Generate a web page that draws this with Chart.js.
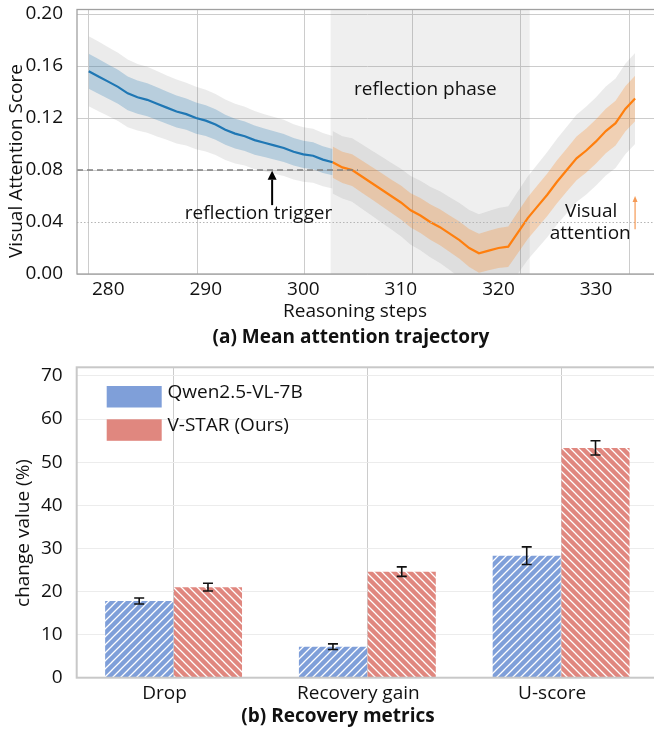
<!DOCTYPE html>
<html>
<head>
<meta charset="utf-8">
<script src="https://cdn.jsdelivr.net/npm/chart.js@4.4.1/dist/chart.umd.min.js"></script>
<style>
  html, body { margin: 0; padding: 0; background: #fff; overflow: hidden; width: 654px; height: 730px; }
  #chartA { position: absolute; left: 0; top: 0; }
  #chartB { position: absolute; left: 0; top: 350px; }
</style>
</head>
<body>
<canvas id="chartA" width="662" height="350"></canvas>
<canvas id="chartB" width="662" height="380"></canvas>
<script>
// ---- (a) mean attention trajectory ----
const stepsBlue = [278, 279, 280, 281, 282, 283, 284, 285, 286, 287, 288, 289, 290,
                   291, 292, 293, 294, 295, 296, 297, 298, 299, 300, 301, 302, 303];
const meanBlue = [0.156, 0.152, 0.148, 0.144, 0.139, 0.136, 0.134, 0.131, 0.128, 0.125, 0.123, 0.120, 0.118,
                  0.115, 0.111, 0.108, 0.106, 0.103, 0.101, 0.099, 0.097, 0.094, 0.092, 0.091, 0.088, 0.086];
const sdBlue = [0.0135, 0.0134, 0.0132, 0.0131, 0.0130, 0.0128, 0.0127, 0.0126, 0.0124, 0.0123, 0.0121, 0.0120, 0.0119,
                0.0117, 0.0116, 0.0115, 0.0113, 0.0112, 0.0110, 0.0109, 0.0108, 0.0106, 0.0105, 0.0104, 0.0102, 0.0101];

const stepsOrange = [303, 304, 305, 306, 307, 308, 309, 310, 311, 312, 313, 314, 315, 316, 317, 318,
                     319, 320, 321, 322, 323, 324, 325, 326, 327, 328, 329, 330, 331, 332, 333, 334];
const meanOrange = [0.086, 0.082, 0.080, 0.075, 0.070, 0.065, 0.060, 0.055, 0.049, 0.045, 0.040, 0.036, 0.031, 0.026, 0.020, 0.016,
                    0.018, 0.020, 0.021, 0.032, 0.043, 0.052, 0.061, 0.071, 0.080, 0.089, 0.095, 0.102, 0.110, 0.116, 0.127, 0.135];
const sdOrange = [0.0120, 0.0120, 0.0122, 0.0124, 0.0125, 0.0127, 0.0128, 0.0130, 0.0132, 0.0134, 0.0136, 0.0138, 0.0140, 0.0143, 0.0146, 0.0150,
                  0.0152, 0.0154, 0.0156, 0.0158, 0.0160, 0.0162, 0.0164, 0.0165, 0.0166, 0.0168, 0.0169, 0.0170, 0.0171, 0.0172, 0.0174, 0.0175];

const xTicksA = [280, 290, 300, 310, 320, 330];
const xGridA = [278, 289.1, 300.1, 311.2, 322.3, 333.4];
const yTicksA = [0, 0.04, 0.08, 0.12, 0.16, 0.20];
const reflectionPhase = [302.8, 323.2];
const triggerLevel = 0.08;
const triggerEnd = 305.6;

// ---- (b) recovery metrics ----
const categories = ['Drop', 'Recovery gain', 'U-score'];
const qwenValues = [17.8, 7.2, 28.3];
const qwenErrors = [0.7, 0.65, 2.05];
const vstarValues = [21.0, 24.6, 53.3];
const vstarErrors = [0.9, 1.1, 1.65];
const yTicksB = [0, 10, 20, 30, 40, 50, 60, 70];

const FONT = "'Open Sans', 'Noto Sans', sans-serif";
Chart.defaults.font.family = FONT;
Chart.defaults.font.size = 19;
Chart.defaults.color = '#111';

let band = (steps, mean, sd, k) => steps.map((s, i) => ({ x: s, y: mean[i] + k * sd[i] }));
let line = (steps, mean) => steps.map((s, i) => ({ x: s, y: mean[i] }));

let bandSet = (data, color, fill, order) => ({
    data: data, borderWidth: 0, pointRadius: 0, backgroundColor: color, fill: fill, order: order
});

// fixed axis sizes, no extra label padding
let fixWidth = w => s => { s.width = w; s.paddingTop = 0; s.paddingBottom = 0; };
let fixHeight = h => s => { s.height = h; s.paddingLeft = 0; s.paddingRight = 0; };

let arrow = (ctx, x, y0, y1, color, lw, head, hw) => {
    ctx.save();
    ctx.strokeStyle = color;
    ctx.fillStyle = color;
    ctx.lineWidth = lw;
    ctx.beginPath();
    ctx.moveTo(x, y0);
    ctx.lineTo(x, y1 + head);
    ctx.stroke();
    ctx.beginPath();
    ctx.moveTo(x, y1);
    ctx.lineTo(x - hw, y1 + head);
    ctx.lineTo(x + hw, y1 + head);
    ctx.closePath();
    ctx.fill();
    ctx.restore();
}

const panelA = {
    id: 'panelA',
    beforeDatasetsDraw(chart) {
        const { ctx, chartArea: a, scales: { x } } = chart;
        ctx.save();
        ctx.fillStyle = 'rgba(128,128,128,0.13)';
        const x0 = x.getPixelForValue(reflectionPhase[0]);
        const x1 = x.getPixelForValue(reflectionPhase[1]);
        ctx.fillRect(x0, a.top, x1 - x0, a.bottom - a.top);
        ctx.restore();
    },
    afterDatasetsDraw(chart) {
        const { ctx, chartArea: a, scales: { x, y } } = chart;
        ctx.save();
        // dotted line at 0.04
        ctx.strokeStyle = '#b5b5b5';
        ctx.lineWidth = 1;
        ctx.setLineDash([1.5, 2]);
        let yy = Math.round(y.getPixelForValue(0.04)) + 0.5;
        ctx.beginPath(); ctx.moveTo(a.left, yy); ctx.lineTo(a.right, yy); ctx.stroke();
        // reflection trigger dashed line
        ctx.strokeStyle = '#808080';
        ctx.lineWidth = 1.6;
        ctx.setLineDash([6, 4]);
        yy = y.getPixelForValue(triggerLevel);
        ctx.beginPath(); ctx.moveTo(a.left, yy); ctx.lineTo(x.getPixelForValue(triggerEnd), yy); ctx.stroke();
        ctx.restore();
    },
    afterDraw(chart) {
        const { ctx, chartArea: a, scales: { x, y } } = chart;
        ctx.save();
        ctx.strokeStyle = '#a0a0a0';
        ctx.lineWidth = 1.3;
        ctx.strokeRect(a.left, a.top, a.right - a.left, a.bottom - a.top);

        ctx.fillStyle = '#111';
        ctx.font = `19px ${FONT}`;
        ctx.textAlign = 'center';
        ctx.textBaseline = 'middle';
        ctx.fillText('reflection phase', x.getPixelForValue(312.5), y.getPixelForValue(0.1415));
        ctx.fillText('reflection trigger', x.getPixelForValue(295.4), y.getPixelForValue(0.0467));
        ctx.fillText('Visual', x.getPixelForValue(329.5), y.getPixelForValue(0.048));
        ctx.fillText('attention', x.getPixelForValue(329.4), y.getPixelForValue(0.0313));

        arrow(ctx, x.getPixelForValue(296.8), y.getPixelForValue(0.053), y.getPixelForValue(0.0795), '#000', 2, 9, 4.5);
        arrow(ctx, x.getPixelForValue(334.0), y.getPixelForValue(0.0344), y.getPixelForValue(0.060), '#f59a55', 1.2, 6, 2.5);

        // axis titles and caption
        ctx.textBaseline = 'alphabetic';
        ctx.fillText('Reasoning steps', 355, 317);
        ctx.font = `bold 19px ${FONT}`;
        ctx.fillText('(a) Mean attention trajectory', 351, 343);
        ctx.font = `19px ${FONT}`;
        ctx.translate(17, 161);
        ctx.rotate(-Math.PI / 2);
        ctx.textBaseline = 'middle';
        ctx.fillText('Visual Attention Score', 0, 0);
        ctx.restore();
    }
};

new Chart(document.getElementById('chartA'), {
    type: 'line',
    data: {
        datasets: [
            { data: line(stepsBlue, meanBlue), borderColor: '#1f77b4', borderWidth: 2.2, pointRadius: 0, fill: false, order: 0 },
            { data: line(stepsOrange, meanOrange), borderColor: '#ff7f0e', borderWidth: 2.2, pointRadius: 0, fill: false, order: 0 },
            bandSet(band(stepsBlue, meanBlue, sdBlue, -1), 'transparent', false, 1),
            bandSet(band(stepsBlue, meanBlue, sdBlue, 1), 'rgba(31,119,180,0.25)', '-1', 1),
            bandSet(band(stepsOrange, meanOrange, sdOrange, -1), 'transparent', false, 1),
            bandSet(band(stepsOrange, meanOrange, sdOrange, 1), 'rgba(255,127,14,0.25)', '-1', 1),
            bandSet(band(stepsBlue, meanBlue, sdBlue, -2), 'transparent', false, 2),
            bandSet(band(stepsBlue, meanBlue, sdBlue, 2), 'rgba(128,128,128,0.16)', '-1', 2),
            bandSet(band(stepsOrange, meanOrange, sdOrange, -2), 'transparent', false, 2),
            bandSet(band(stepsOrange, meanOrange, sdOrange, 2), 'rgba(128,128,128,0.16)', '-1', 2)
        ]
    },
    options: {
        responsive: false,
        animation: false,
        layout: { padding: { left: 0, top: 9.5, right: 4, bottom: 0 } },
        plugins: { legend: { display: false }, tooltip: { enabled: false } },
        scales: {
            x: {
                type: 'linear', min: 276.8, max: 336.35,
                grid: { display: false, drawTicks: false }, border: { display: false },
                ticks: { padding: 4 },
                afterBuildTicks: s => { s.ticks = xTicksA.map(v => ({ value: v })); },
                afterFit: fixHeight(76)
            },
            xg: {
                type: 'linear', position: 'top', min: 276.8, max: 336.35,
                ticks: { display: false },
                grid: { color: '#cccccc', drawTicks: false }, border: { display: false },
                afterBuildTicks: s => { s.ticks = xGridA.map(v => ({ value: v })); },
                afterFit: fixHeight(0)
            },
            y: {
                min: 0, max: 0.2035,
                ticks: { padding: 14, callback: v => v.toFixed(2) },
                grid: { color: c => (c.tick && Math.abs(c.tick.value - 0.04) < 1e-6) ? 'rgba(0,0,0,0)' : '#cccccc', drawTicks: false },
                border: { display: false },
                afterBuildTicks: s => { s.ticks = yTicksA.map(v => ({ value: v })); },
                afterFit: fixWidth(77)
            }
        }
    },
    plugins: [panelA]
});

// ---- chart (b) ----
let canvasB = document.getElementById('chartB');
let hatch = (color, dir) => {
    const t = document.createElement('canvas');
    t.width = 8; t.height = 8;
    const g = t.getContext('2d');
    g.fillStyle = color;
    g.fillRect(0, 0, 8, 8);
    g.strokeStyle = '#ffffff';
    g.lineWidth = 1.3;
    g.beginPath();
    for (const k of [-8, 0, 8]) {
        if (dir > 0) { g.moveTo(k - 1, 9); g.lineTo(k + 9, -1); }
        else { g.moveTo(k - 1, -1); g.lineTo(k + 9, 9); }
    }
    g.stroke();
    return canvasB.getContext('2d').createPattern(t, 'repeat');
}

const blueColor = '#7f9fd9';
const redColor = '#e0877f';
const errors = [qwenErrors, vstarErrors];

const panelB = {
    id: 'panelB',
    afterDatasetsDraw(chart) {
        const { ctx, scales: { y } } = chart;
        ctx.save();
        ctx.strokeStyle = '#111';
        ctx.lineWidth = 1.6;
        chart.data.datasets.forEach((ds, di) => {
            chart.getDatasetMeta(di).data.forEach((bar, i) => {
                const v = ds.data[i], e = errors[di][i];
                const y0 = y.getPixelForValue(v - e), y1 = y.getPixelForValue(v + e);
                ctx.beginPath();
                ctx.moveTo(bar.x, y0); ctx.lineTo(bar.x, y1);
                ctx.moveTo(bar.x - 5, y0); ctx.lineTo(bar.x + 5, y0);
                ctx.moveTo(bar.x - 5, y1); ctx.lineTo(bar.x + 5, y1);
                ctx.stroke();
            });
        });
        ctx.restore();
    },
    afterDraw(chart) {
        const { ctx, chartArea: a } = chart;
        ctx.save();
        ctx.strokeStyle = '#c8c8c8';
        ctx.lineWidth = 2;
        ctx.strokeRect(a.left, a.top, a.right - a.left, a.bottom - a.top);

        // legend
        ctx.font = `19px ${FONT}`;
        ctx.textAlign = 'left';
        ctx.textBaseline = 'middle';
        const legendColors = [blueColor, redColor];
        chart.data.datasets.forEach((ds, i) => {
            const top = 36 + i * 33.3;
            ctx.fillStyle = legendColors[i];
            ctx.fillRect(106.7, top, 55, 21.5);
            ctx.fillStyle = '#111';
            ctx.fillText(ds.label, 167.5, top + 6.5);
        });

        ctx.textAlign = 'center';
        ctx.textBaseline = 'alphabetic';
        ctx.font = `bold 19px ${FONT}`;
        ctx.fillText('(b) Recovery metrics', 338, 372);
        ctx.font = `19px ${FONT}`;
        ctx.translate(24, 183);
        ctx.rotate(-Math.PI / 2);
        ctx.textBaseline = 'middle';
        ctx.fillText('change value (%)', 0, 0);
        ctx.restore();
    }
};

new Chart(canvasB, {
    type: 'bar',
    data: {
        labels: categories,
        datasets: [
            { label: 'Qwen2.5-VL-7B', data: qwenValues, backgroundColor: hatch(blueColor, 1), borderWidth: 0 },
            { label: 'V-STAR (Ours)', data: vstarValues, backgroundColor: hatch(redColor, -1), borderWidth: 0 }
        ]
    },
    options: {
        responsive: false,
        animation: false,
        categoryPercentage: 0.71,
        barPercentage: 0.99,
        layout: { padding: { left: 0, top: 17.3, right: 4, bottom: 0 } },
        plugins: { legend: { display: false }, tooltip: { enabled: false } },
        scales: {
            x: {
                grid: { offset: false, color: '#cccccc', drawTicks: false }, border: { display: false },
                ticks: { padding: 4, labelOffset: -9 },
                afterFit: fixHeight(52.3)
            },
            y: {
                min: 0, max: 72,
                ticks: { padding: 14 },
                grid: { color: '#ececec', drawTicks: false }, border: { display: false },
                afterBuildTicks: s => { s.ticks = yTicksB.map(v => ({ value: v })); },
                afterFit: fixWidth(76.7)
            }
        }
    },
    plugins: [panelB]
});
</script>
</body>
</html>
